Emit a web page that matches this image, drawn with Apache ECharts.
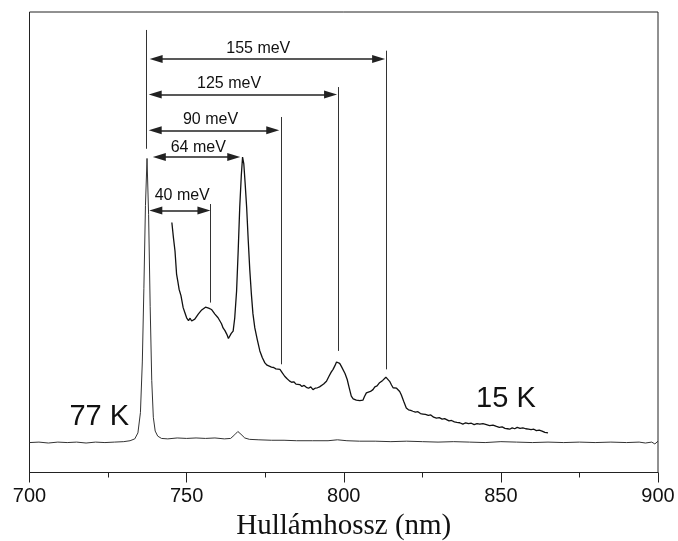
<!DOCTYPE html>
<html>
<head>
<meta charset="utf-8">
<script src="https://cdn.jsdelivr.net/npm/echarts@6/dist/echarts.min.js"></script>
<style>html,body{margin:0;padding:0;background:#fff;}#c{width:678px;height:541px;}</style>
</head>
<body>
<div id="c"></div>
<script>
// [wavelength nm, relative intensity (arb. units; 0 = axis, 100 = frame top)]
const spec77 = [
  [700,6.5],[703,6.6],[706,6.4],[709,6.6],[712,6.5],[715,6.6],[718,6.4],[721,6.6],[724,6.5],[727,6.6],
  [730,6.7],[732,6.9],[733.5,7.3],[734.5,8.6],[735.3,13],[735.9,24],[736.4,40],[736.9,58],[737.4,68.2],
  [737.9,56],[738.4,36],[738.9,20],[739.4,12],[740,9],[740.8,7.9],[742,7.4],[744,7.3],[747,7.5],[750,7.4],
  [753,7.5],[756,7.4],[759,7.5],[762,7.3],[764,7.4],[765.3,8.2],[766.3,8.9],[767.3,8.3],[768.5,7.5],
  [770,7.2],[773,7.1],[777,7.0],[781,7.0],[785,6.9],[790,6.9],[795,6.9],[798,7.1],[801,6.9],[805,6.8],
  [810,6.8],[815,6.7],[820,6.8],[825,6.7],[830,6.6],[835,6.7],[840,6.6],[845,6.5],[850,6.7],[855,6.6],
  [860,6.5],[865,6.6],[870,6.5],[875,6.6],[880,6.5],[885,6.6],[890,6.5],[894,6.6],[896,6.4],[898,6.6],
  [899,6.2],[899.5,5.9],[900,6.8]
];
const spec15 = [
  [745.3,54.3],[745.8,51],[746.3,48.1],[746.8,43.1],[747.2,41.5],[747.6,39.8],[748.2,38.4],[748.9,35.8],
  [749.4,34.8],[750.0,33.6],[750.6,33.0],[751.1,33.5],[751.6,32.9],[752.1,33.2],[752.6,33.3],[753.2,33.7],
  [753.7,34.4],[754.2,34.7],[754.8,35.3],[755.4,35.5],[756.0,35.9],[756.5,36.2],[757.0,35.7],[757.5,35.8],
  [757.9,35.4],[758.5,35.0],[759.0,34.4],[759.5,34.1],[760.0,33.6],[760.6,32.9],[761.1,32.3],[761.6,31.4],
  [762.2,30.8],[762.8,30.0],[763.3,29.1],[763.7,29.4],[764.2,30.2],[764.8,30.7],[765.3,33.5],[765.9,39.4],
  [766.4,48],[766.9,57.6],[767.4,64.5],[767.8,68.5],[768.2,67],[768.6,63],[769.1,57.6],[769.6,50.5],
  [770.1,44],[770.6,38.8],[771.1,34.5],[771.7,31.4],[772.5,28.8],[773.3,26.4],[774.1,24.9],[774.9,23.8],
  [775.6,23.3],[776.3,23.1],[777.0,22.9],[777.7,22.8],[778.4,22.5],[779.0,22.6],[779.7,22.4],[780.4,21.7],
  [781.2,20.9],[781.9,20.4],[782.7,19.9],[783.4,19.6],[784.1,19.7],[784.8,19.2],[785.4,19.4],[786.0,19.1],
  [786.7,18.7],[787.4,18.9],[788.1,18.5],[788.8,18.3],[789.5,18.6],[790.2,18.0],[790.9,18.3],[791.6,18.4],
  [792.3,18.6],[792.9,18.7],[793.6,19.2],[794.5,19.8],[795.3,20.9],[796.0,21.8],[796.6,22.4],[797.2,23.2],
  [797.7,24.0],[798.2,24.3],[798.7,23.7],[799.2,23.1],[799.8,22.7],[800.4,21.5],[801.1,20.2],[801.7,18.5],
  [802.4,16.6],[803.0,16.0],[803.5,15.8],[804.0,15.7],[804.6,15.9],[805.1,15.6],[805.6,15.8],[806.1,15.7],
  [806.6,16.5],[807.2,17.3],[807.8,17.5],[808.5,17.6],[809.3,18.0],[809.9,18.6],[810.6,18.8],[811.4,19.5],
  [811.9,19.3],[812.4,20.0],[812.9,20.2],[813.4,20.7],[813.9,20.3],[814.6,19.8],[815.2,19.0],[815.7,18.4],
  [816.3,18.6],[816.8,18.3],[817.3,18.0],[817.8,17.6],[818.3,16.9],[819.1,15.4],[819.9,14.0],[820.6,13.6],
  [821.3,13.5],[822.0,13.3],[822.8,13.1],[823.6,13.2],[824.4,12.8],[825.2,12.7],[826.0,12.6],[826.9,12.4],
  [827.7,12.5],[828.6,12.0],[829.5,11.8],[830.4,11.9],[831.3,11.6],[832.1,11.7],[832.7,11.5],[833.5,11.2],
  [834.3,11.3],[835.2,11.0],[836.0,10.9],[836.9,10.8],[837.9,10.5],[838.8,10.8],[839.7,10.6],[840.6,10.7],
  [841.5,10.4],[842.4,10.6],[843.3,10.5],[844.3,10.6],[845.4,10.4],[846.4,10.2],[847.5,10.3],[848.6,10.0],
  [849.5,9.8],[850.4,9.9],[851.3,9.6],[852.1,9.5],[852.8,9.4],[853.6,9.7],[854.4,9.5],[855.2,9.8],
  [856.1,9.6],[857.0,9.7],[857.9,9.5],[858.8,9.4],[859.6,9.3],[860.5,9.4],[861.3,9.1],[862.2,9.2],
  [863.1,9.0],[864.0,8.7],[865.0,8.6]
];

// Energy-spacing annotations (arrow line end points; heads drawn centred on them)
const arrowLabels = ['40 meV','64 meV','90 meV','125 meV','155 meV'];
const arrowFrom   = [740.2, 741.3, 740.0, 740.0, 740.3];
const arrowTo     = [755.5, 765.0, 777.4, 795.8, 811.1];
const arrowY      = [56.9, 68.5, 74.3, 82.1, 89.8];
const labelX      = [748.6, 753.7, 757.6, 763.5, 772.8];
const labelY      = [60.2, 70.6, 76.7, 84.4, 92.0];
// vertical marker lines
const vlineX   = [737.3, 757.4, 780.2, 798.2, 813.4];
const vlineLo  = [70.3, 36.9, 23.5, 26.4, 22.4];
const vlineHi  = [96.1, 58.3, 77.2, 83.7, 91.6];
// temperature labels
const tempLabels = ['77 K','15 K'];
const tempX = [722.2, 851.6];
const tempY = [12.0, 16.0];

const head = [8, 13];
const arrowLines = arrowLabels.map((t, i) => [
  {coord: [arrowFrom[i], arrowY[i]], symbol: 'triangle', symbolSize: head},
  {coord: [arrowTo[i], arrowY[i]], symbol: 'triangle', symbolSize: head}
]);
const vLines = vlineX.map((x, i) => [{coord: [x, vlineLo[i]]}, {coord: [x, vlineHi[i]]}]);
const arrowTexts = arrowLabels.map((t, i) => ({coord: [labelX[i], labelY[i]], value: t}));
const tempTexts = tempLabels.map((t, i) => ({coord: [tempX[i], tempY[i]], value: t}));

const chart = echarts.init(document.getElementById('c'), null, {renderer: 'canvas'});
chart.setOption({
  animation: false,
  backgroundColor: '#fff',
  grid: {left: 29.5, right: 20, top: 12, bottom: 68.5, outerBoundsMode: 'none', containLabel: false,
    show: true, borderColor: '#222', borderWidth: 1, backgroundColor: 'transparent'},
  xAxis: {
    type: 'value', min: 700, max: 900, interval: 50,
    name: 'Hullámhossz (nm)', nameLocation: 'middle', nameGap: 37,
    nameTextStyle: {fontFamily: 'Liberation Serif', fontSize: 29, color: '#111'},
    axisLine: {show: true, lineStyle: {color: '#222', width: 1}},
    axisTick: {show: true, inside: false, length: 10, lineStyle: {color: '#222'}},
    minorTick: {show: true, splitNumber: 2, length: 5, lineStyle: {color: '#222'}},
    axisLabel: {fontFamily: 'Liberation Sans', fontSize: 20, color: '#111', margin: 14},
    splitLine: {show: false}, minorSplitLine: {show: false}
  },
  yAxis: {
    type: 'value', min: 0, max: 100,
    axisLine: {show: false}, axisTick: {show: false}, axisLabel: {show: false}, splitLine: {show: false}
  },
  series: [
    {
      name: '77 K', type: 'line', data: spec77, showSymbol: false, symbol: 'none',
      lineStyle: {color: '#333', width: 1}, z: 3,
      markLine: {
        silent: true, symbol: ['none', 'none'],
        lineStyle: {color: '#333', width: 1, type: 'solid'},
        label: {show: false},
        data: vLines
      },
      markPoint: {
        symbol: 'circle', symbolSize: 0,
        label: {show: true, formatter: p => p.data.value, fontFamily: 'Liberation Sans', fontSize: 29, color: '#111'},
        data: tempTexts
      }
    },
    {
      name: '15 K', type: 'line', data: spec15, showSymbol: false, symbol: 'none',
      lineStyle: {color: '#111', width: 1.3}, z: 4,
      markLine: {
        silent: true, symbol: ['triangle', 'triangle'], symbolSize: 10,
        lineStyle: {color: '#222', width: 1.5, type: 'solid'},
        label: {show: false},
        data: arrowLines
      },
      markPoint: {
        symbol: 'circle', symbolSize: 0,
        label: {show: true, formatter: p => p.data.value, fontFamily: 'Liberation Sans', fontSize: 16, color: '#111'},
        data: arrowTexts
      }
    }
  ]
});
</script>
</body>
</html>
